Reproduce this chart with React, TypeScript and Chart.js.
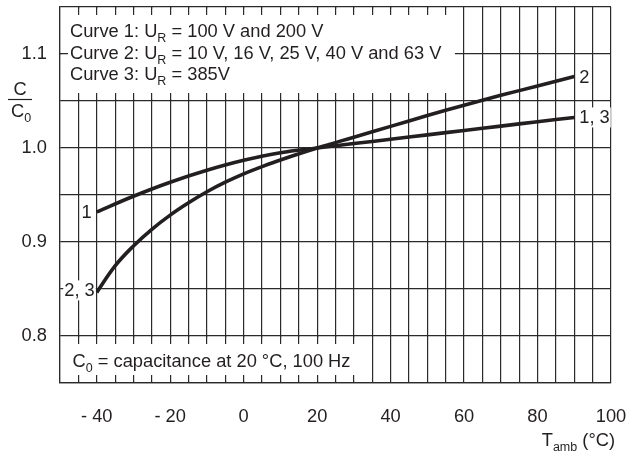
import { useEffect, useRef } from 'react';
import { Chart, registerables } from 'chart.js';

Chart.register(...registerables);

// ---- data ----
const temps1 = [-40, -30, -20, -10, 0, 10, 20, 30, 40, 50, 60, 70, 80, 90];
const curve1 = [0.932, 0.9487, 0.9636, 0.9763, 0.9869, 0.995, 1.0, 1.0047, 1.0093, 1.014, 1.0187, 1.0233, 1.028, 1.0325];
const temps2 = [-40, -35, -30, -25, -20, -15, -10, -5, 0, 5, 10, 20, 30, 40, 50, 60, 70, 80, 90];
const curve2 = [0.8464, 0.8746, 0.8958, 0.9135, 0.9286, 0.9417, 0.9534, 0.9636, 0.9725, 0.9802, 0.9873, 1.0, 1.0115, 1.023, 1.0345, 1.0455, 1.056, 1.066, 1.076];
const xTickLabels = [-40, -20, 0, 20, 40, 60, 80, 100];
const yTickLabels = [0.8, 0.9, 1.0, 1.1];
const legendLines = [
  [{ t: 'Curve 1: U' }, { t: 'R', sub: true }, { t: ' = 100 V and 200 V' }],
  [{ t: 'Curve 2: U' }, { t: 'R', sub: true }, { t: ' = 10 V, 16 V, 25 V, 40 V and 63 V' }],
  [{ t: 'Curve 3: U' }, { t: 'R', sub: true }, { t: ' = 385V' }],
];
const noteLine = [{ t: 'C' }, { t: '0', sub: true }, { t: ' = capacitance at 20 °C, 100 Hz' }];
const xTitle = [{ t: 'T' }, { t: 'amb', sub: true }, { t: ' (°C)' }];
const startLabels = ['1', '2, 3'];
const endLabels = ['1, 3', '2'];

const FONT = '"Liberation Sans", Arial, Helvetica, sans-serif';
const INK = '#231f20';
const GRID = '#2a2a2a';
const GRID_W = 1.2;
const SIZE = 18.3;
const SUB = 12.5;

type Part = { t: string; sub?: boolean };

function measureRich(ctx: CanvasRenderingContext2D, parts: Part[]) {
  let w = 0;
  for (const p of parts) {
    ctx.font = `${p.sub ? SUB : SIZE}px ${FONT}`;
    w += ctx.measureText(p.t).width;
  }
  return w;
}

function drawRich(ctx: CanvasRenderingContext2D, parts: Part[], x: number, y: number, align: 'left' | 'right' | 'center' = 'left') {
  const w = measureRich(ctx, parts);
  let cx = align === 'right' ? x - w : align === 'center' ? x - w / 2 : x;
  ctx.textBaseline = 'alphabetic';
  ctx.textAlign = 'left';
  ctx.fillStyle = INK;
  for (const p of parts) {
    ctx.font = `${p.sub ? SUB : SIZE}px ${FONT}`;
    ctx.fillText(p.t, cx, p.sub ? y + 5 : y);
    cx += ctx.measureText(p.t).width;
  }
}

const align = (p: number) => Math.round(p - GRID_W / 2) + GRID_W / 2;

function drawBox(chart: any, x0: number, x1: number, y0: number, y1: number) {
  const ctx: CanvasRenderingContext2D = chart.ctx;
  const xs = chart.scales.x;
  const ys = chart.scales.y;
  const L = xs.getPixelForValue(x0);
  const R = xs.getPixelForValue(x1);
  const T = ys.getPixelForValue(y1);
  const B = ys.getPixelForValue(y0);
  ctx.save();
  ctx.fillStyle = '#fff';
  ctx.fillRect(L + 1.6, T + 1.6, R - L - 1.6, B - T - 3.2);
  ctx.strokeStyle = GRID;
  ctx.lineWidth = GRID_W;
  ctx.beginPath();
  for (let v = x0 + 5; v < x1; v += 5) {
    const px = align(xs.getPixelForValue(v));
    ctx.moveTo(px, T);
    ctx.lineTo(px, T + 8);
    ctx.moveTo(px, B);
    ctx.lineTo(px, B - 8);
  }
  for (let k = Math.round(y0 * 20) + 1; k < Math.round(y1 * 20); k++) {
    const py = align(ys.getPixelForValue(k / 20));
    ctx.moveTo(L, py);
    ctx.lineTo(L + 8, py);
  }
  ctx.stroke();
  ctx.restore();
}

const boxesPlugin = {
  id: 'boxes',
  beforeDatasetsDraw(chart: any) {
    const ctx: CanvasRenderingContext2D = chart.ctx;
    const { chartArea } = chart;
    drawBox(chart, -50, 57.5, 1.05, 1.15);
    drawBox(chart, -50, 32.5, 0.75, 0.8);
    ctx.save();
    legendLines.forEach((line, i) => {
      drawRich(ctx, line as Part[], chartArea.left + 10, chartArea.top + 30 + i * 21.5);
    });
    drawRich(ctx, noteLine, chartArea.left + 12.5, chartArea.bottom - 16);
    // x title
    drawRich(ctx, xTitle, 615, 446, 'right');
    // y label C / C0
    drawRich(ctx, [{ t: 'C' }], 20, 95, 'center');
    ctx.strokeStyle = INK;
    ctx.lineWidth = 1.2;
    ctx.beginPath();
    ctx.moveTo(8, 99.5);
    ctx.lineTo(32, 99.5);
    ctx.stroke();
    drawRich(ctx, [{ t: 'C' }, { t: '0', sub: true }], 21, 116.5, 'center');
    ctx.restore();
  },
};

function curveLabel(ctx: CanvasRenderingContext2D, text: string, x: number, y: number, side: 'left' | 'right') {
  ctx.font = `${SIZE}px ${FONT}`;
  const w = ctx.measureText(text).width;
  const tx = side === 'right' ? x - w : x;
  ctx.fillStyle = '#fff';
  ctx.fillRect(tx - 1, y - 10, w + 2, 20);
  ctx.fillStyle = INK;
  ctx.textAlign = 'left';
  ctx.textBaseline = 'middle';
  ctx.fillText(text, tx, y + 1);
}

const labelsPlugin = {
  id: 'curveLabels',
  afterDatasetsDraw(chart: any) {
    const ctx: CanvasRenderingContext2D = chart.ctx;
    const xs = chart.scales.x;
    const ys = chart.scales.y;
    ctx.save();
    curveLabel(ctx, startLabels[0], xs.getPixelForValue(temps1[0]) - 5, ys.getPixelForValue(curve1[0]), 'right');
    curveLabel(ctx, startLabels[1], xs.getPixelForValue(temps2[0]) - 2, ys.getPixelForValue(curve2[0]) - 2, 'right');
    curveLabel(ctx, endLabels[0], xs.getPixelForValue(temps1[temps1.length - 1]) + 5, ys.getPixelForValue(curve1[curve1.length - 1]), 'left');
    curveLabel(ctx, endLabels[1], xs.getPixelForValue(temps2[temps2.length - 1]) + 5, ys.getPixelForValue(curve2[curve2.length - 1]), 'left');
    ctx.restore();
  },
};

export default function App() {
  const ref = useRef<HTMLCanvasElement>(null);
  useEffect(() => {
    document.body.style.margin = '0';
    const canvas = ref.current!;
    const chart = new Chart(canvas, {
      type: 'line',
      data: {
        datasets: [
          {
            label: 'Curve 1',
            data: temps1.map((t, i) => ({ x: t, y: curve1[i] })),
            borderColor: INK,
            borderWidth: 3.6,
            pointRadius: 0,
            tension: 0.4,
            fill: false,
          },
          {
            label: 'Curve 2',
            data: temps2.map((t, i) => ({ x: t, y: curve2[i] })),
            borderColor: INK,
            borderWidth: 3.6,
            pointRadius: 0,
            tension: 0.4,
            fill: false,
          },
        ],
      },
      options: {
        responsive: false,
        animation: false,
        devicePixelRatio: 1,
        layout: { padding: { left: 0, right: 20, top: 7, bottom: 0 } },
        plugins: { legend: { display: false }, tooltip: { enabled: false } },
        scales: {
          x: {
            type: 'linear',
            min: -50,
            max: 100,
            grid: { color: GRID, lineWidth: GRID_W, drawTicks: false },
            border: { display: true, color: GRID, width: GRID_W },
            ticks: {
              stepSize: 5,
              autoSkip: false,
              maxRotation: 0,
              minRotation: 0,
              padding: 23,
              color: INK,
              font: { family: FONT, size: SIZE },
              callback: (v: any) => {
                const n = Math.round(Number(v));
                if (!xTickLabels.includes(n)) return '';
                return n < 0 ? '- ' + Math.abs(n) : String(n);
              },
            },
            afterFit: (s: any) => {
              s.height = 70;
              s.paddingLeft = 0;
              s.paddingRight = 0;
            },
          },
          y: {
            type: 'linear',
            min: 0.75,
            max: 1.15,
            grid: { color: GRID, lineWidth: GRID_W, drawTicks: false },
            border: { display: true, color: GRID, width: GRID_W },
            ticks: {
              stepSize: 0.05,
              autoSkip: false,
              padding: 13,
              color: INK,
              font: { family: FONT, size: SIZE },
              callback: (v: any) => {
                const r = Math.round(Number(v) * 100) / 100;
                return yTickLabels.some((t) => Math.abs(t - r) < 1e-6) ? r.toFixed(1) : '';
              },
            },
            afterFit: (s: any) => {
              s.width = 60;
              s.paddingTop = 0;
              s.paddingBottom = 0;
            },
          },
        },
      },
      plugins: [boxesPlugin, labelsPlugin],
    } as any);
    return () => chart.destroy();
  }, []);
  return (
    <div style={{ position: 'absolute', left: 0, top: 0, width: 631, height: 453, background: '#fff' }}>
      <canvas ref={ref} width={631} height={453} style={{ display: 'block', width: 631, height: 453 }} />
    </div>
  );
}
